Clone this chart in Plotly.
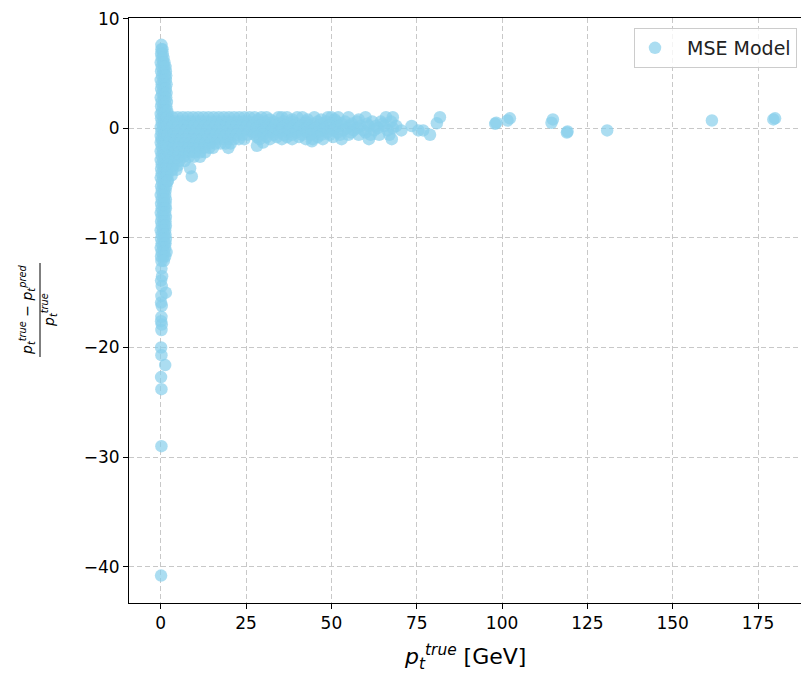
import plotly.graph_objects as go

# ---- data ----
# Points are stored as rows: one y value per row and the x values found on that row.

# column of points at very low p_t (upper part, y > 1)
col_top_rows_y = [7.6, 7.2, 6.8, 6.4, 6.0, 5.6, 5.2, 4.8, 4.4, 4.0, 3.6, 3.2, 2.8, 2.4, 2.0, 1.6, 1.3]
col_top_rows_x = [[0.2], [0.2, 0.5], [0.1, 0.6], [0.3, 0.8], [0.0, 0.7, 1.1], [0.3, 1.0, 1.4],
                  [0.1, 0.8, 1.5], [0.4, 1.2, 1.6], [0.0, 0.9, 1.5], [0.3, 1.1, 1.7], [0.1, 0.8, 1.5],
                  [0.4, 1.2, 1.7], [0.0, 0.9, 1.6], [0.3, 1.1, 1.8], [0.1, 0.8, 1.6], [0.4, 1.2, 1.9],
                  [0.0, 0.9, 2.0]]

# column of points at very low p_t (middle part, -1 < y < 1)
col_mid_rows_y = [0.9, 0.5, 0.1, -0.3, -0.7, -1.0]
col_mid_rows_x = [[0.1, 0.8, 1.5], [0.3, 1.0, 1.6], [0.0, 0.7, 1.4], [0.2, 0.9, 1.6], [0.0, 0.8, 1.5],
                  [0.3, 1.0, 1.7]]

# column of points at very low p_t (lower part, -12.3 < y < -1)
col_low_rows_y = [-1.3, -1.7, -2.1, -2.5, -2.9, -3.3, -3.7, -4.1, -4.5, -4.9, -5.3, -5.7, -6.1, -6.5,
                  -6.9, -7.3, -7.7, -8.1, -8.5, -8.9, -9.3, -9.7, -10.1, -10.5, -10.9, -11.3, -11.7, -12.1]
col_low_rows_x = [[0.0, 0.7, 1.4], [0.3, 1.0, 1.6], [0.0, 0.7, 1.5], [0.3, 1.1, 1.7], [0.0, 0.8, 1.5],
                  [0.3, 1.0, 1.7], [0.1, 0.8, 1.5], [0.3, 1.1, 1.8], [0.0, 0.7, 1.5], [0.4, 1.1, 1.9],
                  [0.1, 0.8, 1.6], [0.3, 1.0, 1.4], [0.0, 0.7, 1.3], [0.3, 1.0, 1.5], [0.1, 0.8, 1.4],
                  [0.3, 1.1, 1.5], [0.0, 0.7, 1.3], [0.3, 1.0, 1.5], [0.1, 0.8, 1.4], [0.3, 1.1, 1.5],
                  [0.0, 0.7, 1.3], [0.3, 1.0, 1.4], [0.1, 0.8, 1.5], [0.3, 1.1, 1.4], [0.0, 0.7, 1.3],
                  [0.3, 1.0, 1.7], [0.1, 0.8, 1.3], [0.2, 0.9]]

# sparse tail of the column
tail_x = [0.2, 0.4, 0.1, 0.3, 1.5, 0.2, 0.1, 0.3, 0.2, 0.1, 0.3, 0.2, 0.1, 0.2, 1.3, 0.1, 0.2, 0.2, 0.1]
tail_y = [-12.8, -13.5, -13.9, -14.4, -15.0, -15.3, -15.9, -16.2, -17.2, -17.6, -17.9, -18.4, -20.0,
          -20.7, -21.6, -22.7, -23.8, -29.0, -40.8]

# dense band for 2 < p_t < 26 GeV
band_rows_y = [1.0, 0.6, 0.2, -0.2, -0.6, -1.0]
band_rows_x = [[2.0, 3.5, 5.0, 6.5, 8.0, 9.5, 11.0, 12.5, 14.0, 15.5, 17.0, 18.5, 20.0, 21.5, 23.0, 24.5, 26.0],
               [2.6, 4.1, 5.7, 7.2, 8.8, 10.3, 11.9, 13.4, 15.0, 16.5, 18.1, 19.6, 21.2, 22.7, 24.3, 25.8],
               [2.0, 3.6, 5.1, 6.7, 8.2, 9.8, 11.3, 12.9, 14.4, 16.0, 17.5, 19.1, 20.6, 22.2, 23.7, 25.3],
               [2.7, 4.2, 5.8, 7.3, 8.9, 10.4, 12.0, 13.5, 15.1, 16.6, 18.2, 19.7, 21.3, 22.8, 24.4, 25.9],
               [2.1, 3.7, 5.2, 6.8, 8.3, 9.9, 11.4, 13.0, 14.5, 16.1, 17.6, 19.2, 20.7, 22.3, 23.8, 25.4],
               [2.8, 4.3, 5.9, 7.4, 9.0, 10.5, 12.1, 13.6, 15.2, 16.7, 18.3, 19.8, 21.4, 22.9, 24.5]]

# lower-left shoulder between the column and the band
curve_rows_y = [-1.4, -1.8, -2.2, -2.6, -3.0, -3.4, -3.8, -4.3, -4.8]
curve_rows_x = [[2.5, 4.0, 5.5, 7.0, 8.5, 10.0, 11.5, 13.0, 14.5, 16.0, 17.5, 19.0, 20.5],
                [2.2, 3.7, 5.2, 6.7, 8.2, 9.7, 11.2, 12.7, 14.2, 15.3, 19.8],
                [2.5, 4.0, 5.5, 7.0, 8.5, 10.0, 11.5, 13.0],
                [2.2, 3.7, 5.2, 6.7, 8.2, 9.7, 11.5],
                [2.5, 4.0, 5.5, 7.0],
                [2.2, 3.7, 5.0],
                [2.0, 3.4, 4.6],
                [2.0, 3.2],
                [2.1]]
shoulder_x = [8.6, 9.1]
shoulder_y = [-3.65, -4.4]

# scattered belt 27 - 82 GeV
mid_rows_y = [1.0, 0.8, 0.6, 0.4, 0.2, 0.0, -0.2, -0.4, -0.6, -0.8, -1.0]
mid_rows_x = [[27.5, 29.5, 31.0, 34.5, 35.5, 37.0, 40.0, 41.5, 45.0, 49.0, 50.0, 52.0, 55.0, 60.0, 66.0, 68.0],
              [28.5, 32.0, 38.5, 43.0, 47.0, 51.0, 58.0],
              [28.0, 30.5, 33.0, 36.0, 38.5, 42.5, 46.0, 48.5, 51.5, 54.0, 57.5, 62.0, 64.5, 67.5],
              [27.2, 29.8, 32.3, 34.8, 37.3, 39.8, 42.3, 44.8, 47.3, 49.8, 53.0, 56.0, 60.5, 65.0],
              [27.0, 29.0, 31.5, 33.5, 36.5, 39.0, 41.0, 43.5, 46.5, 49.5, 52.5, 55.5, 58.5, 61.0, 63.0,
               65.5, 69.0, 73.5],
              [28.0, 30.5, 33.0, 35.5, 38.0, 40.5, 43.0, 45.5, 48.0, 51.0, 54.5, 57.5, 63.5, 68.0],
              [28.5, 30.5, 32.5, 35.0, 37.5, 40.0, 42.0, 44.5, 47.5, 50.5, 53.5, 56.5, 59.5, 62.5, 66.5,
               70.5, 75.5, 76.9],
              [27.3, 29.8, 32.3, 34.8, 37.3, 39.8, 42.8, 45.8, 48.8, 51.8, 55.8, 60.0],
              [27.5, 30.0, 33.0, 36.0, 38.5, 41.5, 44.0, 47.0, 49.5, 52.5, 55.0, 58.0, 61.5, 64.0, 67.0, 78.9],
              [28.2, 31.0, 34.0, 37.0, 40.5, 46.0, 50.5],
              [29.0, 32.0, 35.5, 38.5, 42.5, 44.5, 47.5, 53.0, 61.0, 67.7]]
mid_extra_x = [28.2, 44.3, 30.0, 80.9, 81.8]
mid_extra_y = [-1.6, -1.2, -1.3, 0.45, 1.0]

# isolated high-p_t points
far_x = [98.0, 98.3, 101.6, 102.3, 114.5, 114.9, 119.0, 119.2, 130.8, 161.5, 179.5, 180.0]
far_y = [0.4, 0.5, 0.7, 0.9, 0.5, 0.8, -0.4, -0.3, -0.2, 0.7, 0.8, 0.9]

x_ticks = [0, 25, 50, 75, 100, 125, 150, 175]
y_ticks = [10, 0, -10, -20, -30, -40]


def unroll(rows_y, rows_x):
    xs, ys = [], []
    for yv, row in zip(rows_y, rows_x):
        for xv in row:
            xs.append(xv)
            ys.append(yv)
    return xs, ys


all_x, all_y = [], []
for rx, ry in [unroll(col_top_rows_y, col_top_rows_x), unroll(col_mid_rows_y, col_mid_rows_x),
               unroll(col_low_rows_y, col_low_rows_x), (tail_x, tail_y),
               unroll(band_rows_y, band_rows_x), unroll(curve_rows_y, curve_rows_x),
               (shoulder_x, shoulder_y), unroll(mid_rows_y, mid_rows_x), (mid_extra_x, mid_extra_y),
               (far_x, far_y)]:
    all_x += list(rx)
    all_y += list(ry)

FONT = "DejaVu Sans"

fig = go.Figure()
fig.add_trace(go.Scatter(
    x=all_x, y=all_y, mode="markers", name="\u00a0\u00a0MSE Model",
    marker=dict(size=12.5, color="rgba(135,206,235,0.7)", line=dict(width=0)),
    showlegend=True,
))

W, H = 801, 675
L, R, T, B = 129, 0, 18, 72
pw, ph = W - L - R, H - T - B


def px2paper(px, py):
    return (px - L) / pw, 1 - (py - T) / ph


axis_common = dict(
    showline=True, linecolor="black", linewidth=1.1,
    ticks="outside", ticklen=5, tickwidth=1.1, tickcolor="black",
    showgrid=True, gridcolor="#c8c8c8", gridwidth=1, griddash="5px,3px",
    zeroline=False, tickfont=dict(family=FONT, size=17, color="black"),
)

fig.update_xaxes(range=[-9.3, 187.6], tickvals=x_ticks, mirror=True, **axis_common)
fig.update_yaxes(range=[-43.3, 10.05], tickvals=y_ticks, mirror=False, **axis_common)

xl = px2paper(465, 657)
num = px2paper(27, 310)
den = px2paper(49, 310)
line_top = px2paper(40, 263)
line_bot = px2paper(40, 357)

ptrue = "<i>p</i><sub><i>t</i></sub><sup><i>true</i></sup>"
ppred = "<i>p</i><sub><i>t</i></sub><sup><i>pred</i></sup>"

annotations = [
    dict(text=ptrue + " [GeV]", x=xl[0], y=xl[1], xref="paper", yref="paper",
         showarrow=False, xanchor="center", yanchor="middle",
         font=dict(family=FONT, size=22, color="black")),
    dict(text=ptrue + " − " + ppred, x=num[0], y=num[1], xref="paper", yref="paper",
         showarrow=False, xanchor="center", yanchor="middle", textangle=-90,
         font=dict(family=FONT, size=14, color="black")),
    dict(text=ptrue, x=den[0], y=den[1], xref="paper", yref="paper",
         showarrow=False, xanchor="center", yanchor="middle", textangle=-90,
         font=dict(family=FONT, size=14, color="black")),
]

lg = px2paper(797, 28)
fig.update_layout(
    width=W, height=H,
    margin=dict(l=L, r=R, t=T, b=B),
    paper_bgcolor="white", plot_bgcolor="white",
    font=dict(family=FONT, color="black"),
    annotations=annotations,
    shapes=[dict(type="line", xref="paper", yref="paper",
                 x0=line_top[0], x1=line_bot[0], y0=line_bot[1], y1=line_top[1],
                 line=dict(color="black", width=1))],
    legend=dict(x=lg[0], y=lg[1], xanchor="right", yanchor="top",
                bgcolor="rgba(255,255,255,0.8)", bordercolor="#cccccc", borderwidth=1,
                font=dict(family=FONT, size=19, color="#222222")),
)

fig.write_html("out.html")
